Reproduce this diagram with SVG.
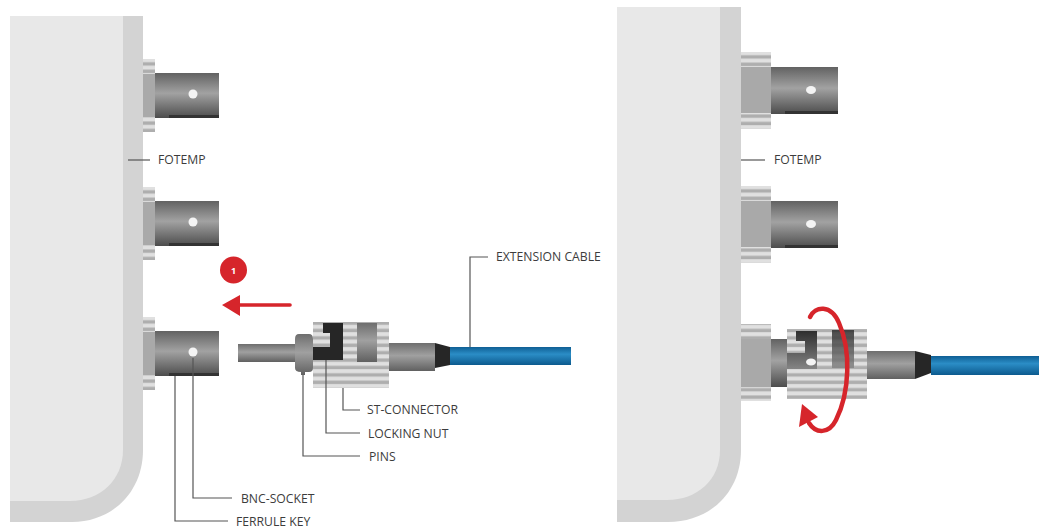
<svg xmlns="http://www.w3.org/2000/svg" xmlns:xlink="http://www.w3.org/1999/xlink" width="1039" height="529" viewBox="0 0 1039 529">
<style>
.t{font-family:"Open Sans","Liberation Sans",sans-serif;font-size:12.2px;fill:#3c3c3c}
.l{fill:none;stroke:#555;stroke-width:1.2}
.outer{fill:#d3d3d3}.inner{fill:#e8e8e8}
.body{fill:url(#gb)}.rib{fill:url(#st)}.rf{fill:#a9a9a9}.sh{fill:#333}.dot{fill:#f4f4f4}
.cable{fill:url(#gc)}.blk{fill:#262626}.blue{fill:url(#gbl)}.red{fill:#d6252b}.rl{fill:none;stroke:#d6252b;stroke-linecap:round}
</style>
<defs>
<linearGradient id="gb" x1="0" y1="0" x2="0" y2="1"><stop offset="0" stop-color="#626262"/><stop offset=".45" stop-color="#a2a2a2"/><stop offset="1" stop-color="#4c4c4c"/></linearGradient>
<linearGradient id="gc" x1="0" y1="0" x2="0" y2="1"><stop offset="0" stop-color="#6e6e6e"/><stop offset=".45" stop-color="#a0a0a0"/><stop offset="1" stop-color="#606060"/></linearGradient>
<linearGradient id="gd" x1="0" y1="0" x2="0" y2="1"><stop offset="0" stop-color="#2e2e2e"/><stop offset="1" stop-color="#858585"/></linearGradient>
<linearGradient id="gbl" x1="0" y1="0" x2="0" y2="1"><stop offset="0" stop-color="#0f5f94"/><stop offset=".4" stop-color="#2b8dc6"/><stop offset="1" stop-color="#0c5a8e"/></linearGradient>
<pattern id="st" width="8" height="7.4" patternUnits="userSpaceOnUse"><rect width="8" height="7.4" fill="#e0e0e0"/><rect y="3.2" width="8" height="3.4" fill="#aeaeae"/></pattern>
<g id="sock"><rect class="rib" x="143" y="0" width="12" height="73"/><rect class="rf" x="143" y="15" width="12" height="43"/><rect class="body" x="155" y="14" width="64" height="45"/><rect class="sh" x="169" y="56" width="50" height="3"/><ellipse class="dot" cx="193" cy="35" rx="4.500" ry="4.500"/></g>
<g id="sockr"><rect class="rib" x="741" y="0" width="30" height="77"/><rect class="rf" x="741" y="15" width="30" height="46"/><rect class="body" x="771" y="15" width="67" height="47"/><rect class="sh" x="785" y="59" width="53" height="3"/><ellipse class="dot" cx="811" cy="38" rx="5" ry="4"/></g>
</defs>
<rect width="1039" height="529" fill="#fff"/>
<g id="fotemp-left">
<path class="outer" d="M10 16H143V450C143 492 112 522 72 522H10Z"/>
<path class="inner" d="M10 16H123V450C123 480 100 501 70 501H10Z"/>
</g>
<g id="fotemp-right">
<path class="outer" d="M617 7H741V450C741 492 710 522 668 522H617Z"/>
<path class="inner" d="M617 7H720V450C720 480 697 500 667 500H617Z"/>
</g>
<g id="socket-left-1"><use xlink:href="#sock" y="59"/></g>
<g id="socket-left-2"><use xlink:href="#sock" y="187"/></g>
<g id="socket-left-3"><use xlink:href="#sock" y="317"/></g>
<g id="socket-right-1"><use xlink:href="#sockr" y="52"/></g>
<g id="socket-right-2"><use xlink:href="#sockr" y="186"/></g>
<g id="st-connector">
<rect class="cable" x="238" y="344" width="58" height="18"/>
<rect class="rib" x="313" y="322" width="76" height="66"/>
<rect class="cable" x="357" y="323" width="20" height="39"/>
<path class="blk" d="M323 323H343V360H313V347H330V333H323Z"/>
<path class="cable" d="M299 334H309Q313 334 313 339V368Q313 372 309 372H305V375H301V372Q295 372 295 368V339Q295 334 299 334Z"/>
<rect class="cable" x="389" y="343" width="46" height="28"/>
<path class="blk" d="M435 343L450 347V365L435 368Z"/>
</g>
<rect id="cable-left" class="blue" x="450" y="347" width="121" height="18"/>
<g id="st-connector-right">
<rect class="rib" x="741" y="324" width="30" height="77"/>
<rect class="rf" x="741" y="339" width="30" height="48"/>
<rect class="body" x="771" y="339" width="16" height="48"/>
<rect class="rib" x="787" y="329" width="80" height="70"/>
<path d="M832 330H854V368H832Z" fill="url(#gd)" opacity=".85"/>
<path d="M787 353H805V341H796V331H817V369H787Z" fill="url(#gd)"/>
<ellipse class="dot" cx="811" cy="362" rx="5" ry="3.500"/>
<rect class="cable" x="867" y="351" width="48" height="28"/>
<path class="blk" d="M915 351L931 355V373L915 379Z"/>
</g>
<rect id="cable-right" class="blue" x="931" y="356" width="108" height="19"/>
<g id="connectors">
<path class="l" d="M128 160H150"/>
<path class="l" d="M741 160H765"/>
<path class="l" d="M470 347V257H488"/>
<path class="l" d="M343 388V410H360"/>
<path class="l" d="M326 360V433H360"/>
<path class="l" d="M303 375V456H360"/>
<path class="l" d="M193 358V498H232"/>
<path class="l" d="M175 376V521H228"/>
</g>
<g id="labels">
<text class="t" x="158" y="164">FOTEMP</text>
<text class="t" x="774" y="164">FOTEMP</text>
<text class="t" x="496" y="261">EXTENSION CABLE</text>
<text class="t" x="367" y="414">ST-CONNECTOR</text>
<text class="t" x="368" y="438">LOCKING NUT</text>
<text class="t" x="369" y="461">PINS</text>
<text class="t" x="241" y="503">BNC-SOCKET</text>
<text class="t" x="236" y="526">FERRULE KEY</text>
</g>
<g id="step-1">
<circle class="red" cx="233.500" cy="270" r="13.500"/>
<text x="233.500" y="273.500" text-anchor="middle" font-family="Open Sans,Liberation Sans,sans-serif" font-size="9" font-weight="700" fill="#fff">1</text>
</g>
<g id="arrows">
<path class="rl" stroke-width="3.600" d="M240 305H290"/>
<path class="red" d="M222 305L240 295V316Z"/>
<path class="rl" stroke-width="4.500" d="M810 317C815 306 831 304 839 323C851 350 850 392 836 420C829 434 816 434 809 423"/>
<path class="red" d="M802 404L818 417L799 427Z"/>
</g>
</svg>
